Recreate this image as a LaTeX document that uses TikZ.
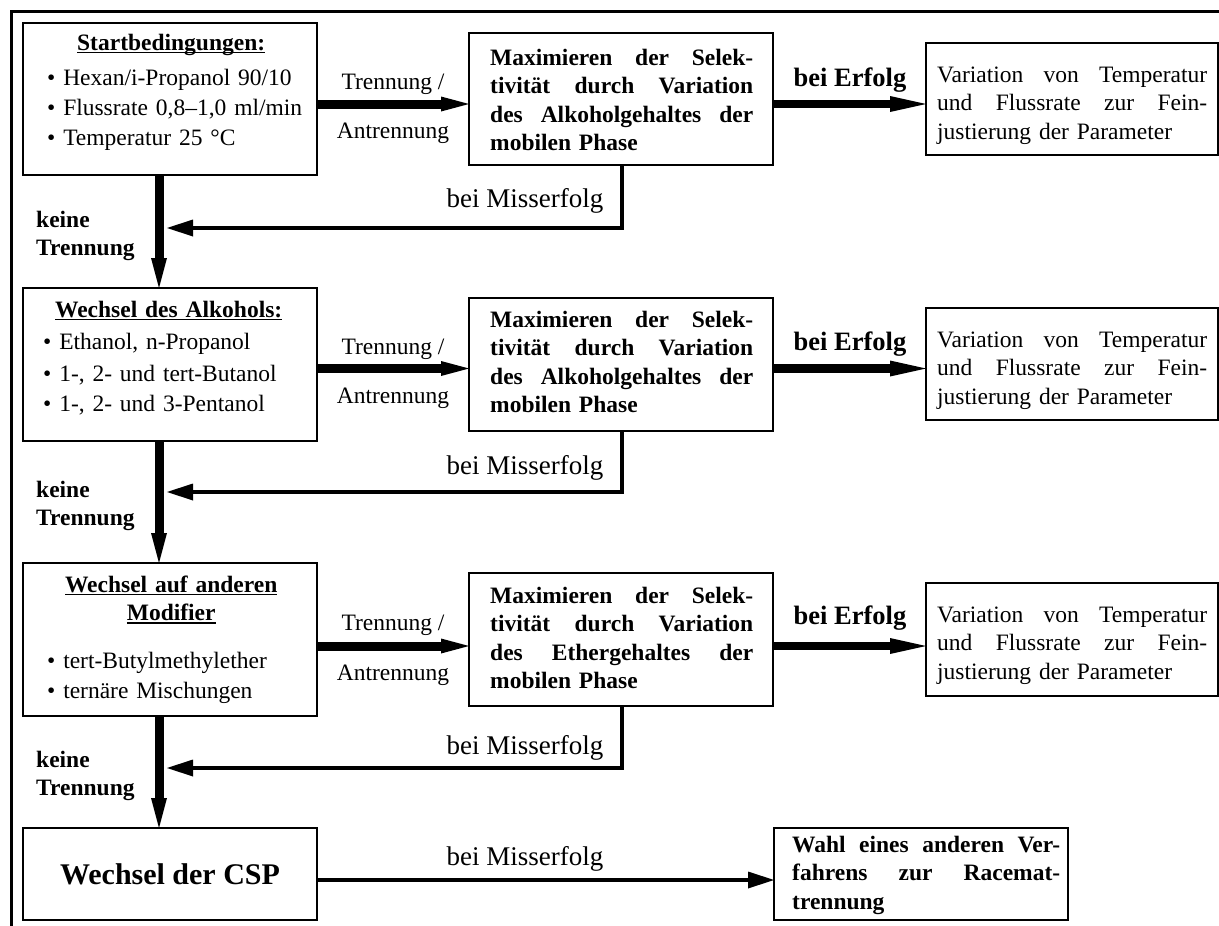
\documentclass[tikz,border=0pt]{standalone}
\usepackage{fontspec}
\setmainfont{Liberation Serif}
\usetikzlibrary{arrows.meta}
\newcommand\ulbar[1]{\setbox0=\hbox{#1}\rlap{\rule[-3.2pt]{\wd0}{1.6pt}}\box0}
\newcommand\jl[2]{\leavevmode\hbox to #1{\spaceskip=0.25em plus 1fil\relax #2}}
\begin{document}
\begin{tikzpicture}[x=1pt,y=-1pt,
  font=\fontsize{23.5}{28.5}\selectfont,
  box/.style={draw,line width=1.5pt,inner sep=0,outer sep=0,anchor=north west},
  txt/.style={inner sep=0,anchor=base west,align=left},
  lbl/.style={inner sep=0,anchor=base},
  boldtxt/.style={font=\fontsize{23.5}{28.5}\selectfont\bfseries},
  bigarr/.style={line width=9pt,-{Triangle[length=28pt,width=15pt,line width=0pt]}},
  erfarr/.style={line width=8.5pt,-{Triangle[length=36pt,width=16pt,line width=0pt]}},
  downarr/.style={line width=9pt,-{Triangle[length=30pt,width=16pt,line width=0pt]}},
  fbarr/.style={line width=4pt,line join=miter,-{Triangle[length=26pt,width=17pt,line width=0pt]}},
  erf/.style={lbl,font=\fontsize{26.5}{30}\selectfont\bfseries},
  miss/.style={lbl,font=\fontsize{27}{30}\selectfont},
]
\useasboundingbox (0,0) rectangle (1219,926);
\draw[line width=3pt] (11,926) -- (11,11) -- (1219,11);

% ---------- row 1 ----------
\node[box,minimum width=294pt,minimum height=152pt] (s1) at (23,23) {};
\node[txt,text width=285pt] (s1t) at (47,50) {\makebox[248pt]{\ulbar{\bfseries Startbedingungen:}}\\[6.5pt]
 • Hexan/i-Propanol 90/10\\[1.5pt]
 • Flussrate 0,8–1,0 ml/min\\[1.5pt]
 • Temperatur 25 °C};
\node[box,minimum width=304pt,minimum height=132pt] (m1) at (469,33) {};
\node[txt,boldtxt,text width=270pt] (m1t) at (490,65) {\jl{263pt}{Maximieren der Selek-}\\
 \jl{263pt}{tivität durch Variation}\\
 \jl{263pt}{des Alkoholgehaltes der}\\
 mobilen Phase};
\node[box,minimum width=292pt,minimum height=112pt] (v1) at (926,43) {};
\node[txt,text width=280pt] (v1t) at (937,82) {\jl{270pt}{Variation von Temperatur}\\
 \jl{270pt}{und Flussrate zur Fein-}\\
 justierung der Parameter};
\node[lbl] (t1a) at (393,89) {Trennung /};
\node[lbl] (t1b) at (393,138) {Antrennung};
\node[erf] (e1) at (850,86) {bei Erfolg};
\node[miss] (f1) at (525,207) {bei Misserfolg};
\node[txt,boldtxt,text width=130pt] (k1) at (36,227) {keine\\Trennung};

% ---------- row 2 ----------
\node[box,minimum width=294pt,minimum height=153pt] (s2) at (23,288) {};
\node[txt,text width=285pt] (s2t) at (43,317) {\makebox[251pt]{\ulbar{\bfseries Wechsel des Alkohols:}}\\[3.5pt]
 • Ethanol, n-Propanol\\[3.5pt]
 • 1-, 2- und tert-Butanol\\[2pt]
 • 1-, 2- und 3-Pentanol};
\node[box,minimum width=304pt,minimum height=133pt] (m2) at (469,298) {};
\node[txt,boldtxt,text width=270pt] (m2t) at (490,327) {\jl{263pt}{Maximieren der Selek-}\\
 \jl{263pt}{tivität durch Variation}\\
 \jl{263pt}{des Alkoholgehaltes der}\\
 mobilen Phase};
\node[box,minimum width=292pt,minimum height=112pt] (v2) at (926,308) {};
\node[txt,text width=280pt] (v2t) at (937,347) {\jl{270pt}{Variation von Temperatur}\\
 \jl{270pt}{und Flussrate zur Fein-}\\
 justierung der Parameter};
\node[lbl] (t2a) at (393,354) {Trennung /};
\node[lbl] (t2b) at (393,403) {Antrennung};
\node[erf] (e2) at (850,350) {bei Erfolg};
\node[miss] (f2) at (525,474) {bei Misserfolg};
\node[txt,boldtxt,text width=130pt] (k2) at (36,497) {keine\\Trennung};

% ---------- row 3 ----------
\node[box,minimum width=294pt,minimum height=153pt] (s3) at (23,563) {};
\node[txt,text width=285pt] (s3t) at (47,592) {\makebox[248pt]{\ulbar{\bfseries Wechsel auf anderen}}\\
 \makebox[248pt]{\ulbar{\bfseries Modifier}}\\[19pt]
 • tert-Butylmethylether\\[1.5pt]
 • ternäre Mischungen};
\node[box,minimum width=304pt,minimum height=133pt] (m3) at (469,573) {};
\node[txt,boldtxt,text width=270pt] (m3t) at (490,603) {\jl{263pt}{Maximieren der Selek-}\\
 \jl{263pt}{tivität durch Variation}\\
 \jl{263pt}{des Ethergehaltes der}\\
 mobilen Phase};
\node[box,minimum width=292pt,minimum height=113pt] (v3) at (926,583) {};
\node[txt,text width=280pt] (v3t) at (937,622) {\jl{270pt}{Variation von Temperatur}\\
 \jl{270pt}{und Flussrate zur Fein-}\\
 justierung der Parameter};
\node[lbl] (t3a) at (393,630) {Trennung /};
\node[lbl] (t3b) at (393,680) {Antrennung};
\node[erf] (e3) at (850,624) {bei Erfolg};
\node[miss] (f3) at (525,754) {bei Misserfolg};
\node[txt,boldtxt,text width=130pt] (k3) at (36,767) {keine\\Trennung};

% ---------- row 4 ----------
\node[box,minimum width=294pt,minimum height=92pt,font=\fontsize{30}{34}\selectfont\bfseries] (s4) at (23,828) {Wechsel der CSP};
\node[box,minimum width=294pt,minimum height=92pt] (w) at (774,828) {};
\node[txt,boldtxt,text width=275pt] (wt) at (792,852) {\jl{268pt}{Wahl eines anderen Ver-}\\
 \jl{268pt}{fahrens zur Racemat-}\\
 trennung};
\node[miss] (f4) at (525,865) {bei Misserfolg};

% ---------- connectors ----------
\coordinate (y1) at (0,104);
\coordinate (y2) at (0,368.5);
\coordinate (y3) at (0,646);
\coordinate (y4) at (0,880);
\coordinate (dx) at (159,0);
\coordinate (fx) at (622,0);
\coordinate (fb1) at (167,228);
\coordinate (fb2) at (167,492);
\coordinate (fb3) at (167,768);

\draw[bigarr] (s1.east |- y1) -- (m1.west |- y1);
\draw[bigarr] (s2.east |- y2) -- (m2.west |- y2);
\draw[bigarr] (s3.east |- y3) -- (m3.west |- y3);
\draw[erfarr] (m1.east |- y1) -- (v1.west |- y1);
\draw[erfarr] (m2.east |- y2) -- (v2.west |- y2);
\draw[erfarr] (m3.east |- y3) -- (v3.west |- y3);
\draw[downarr] (s1.south -| dx) -- (s2.north -| dx);
\draw[downarr] (s2.south -| dx) -- (s3.north -| dx);
\draw[downarr] (s3.south -| dx) -- (s4.north -| dx);
\draw[fbarr] (m1.south -| fx) |- (fb1);
\draw[fbarr] (m2.south -| fx) |- (fb2);
\draw[fbarr] (m3.south -| fx) |- (fb3);
\draw[fbarr] (s4.east |- y4) -- (w.west |- y4);
\end{tikzpicture}
\end{document}
